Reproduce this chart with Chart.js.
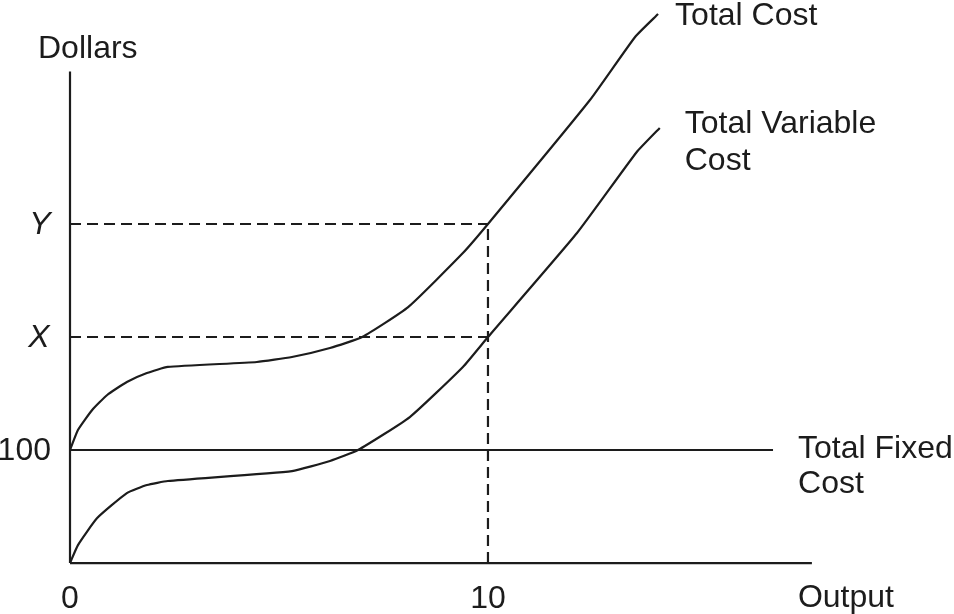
<!DOCTYPE html>
<html>
<head>
<meta charset="utf-8">
<script src="https://cdn.jsdelivr.net/npm/chart.js@4.4.1/dist/chart.umd.min.js"></script>
<style>
  html, body { margin: 0; padding: 0; background: #fff; }
  #wrap { width: 954px; height: 614px; }
</style>
</head>
<body>
<div id="wrap"><canvas id="costChart" width="954" height="614"></canvas></div>
<script>
// Values (output units, dollars)
const tcOutput  = [0, 0.19, 0.53, 0.89, 1.36, 1.84, 2.34, 4.47, 5.31, 6.22, 6.99, 8.09, 9.40, 10, 12.44, 13.52, 14.07];
const tcValues  = [100, 117.7, 135.4, 148.7, 160.2, 168.1, 173.5, 177.9, 182.3, 190.3, 200, 226.5, 274.3, 300, 409.7, 465.5, 485.8];

const tvcOutput = [0, 0.19, 0.65, 1.36, 1.84, 2.34, 5.31, 6.22, 6.89, 8.13, 9.40, 10, 12.13, 13.56, 14.11];
const tvcValues = [0, 15.9, 39.8, 61.9, 69, 72.6, 81.4, 90.3, 100, 129.2, 173.5, 200, 292, 363.7, 385];

const tfcOutput = [0, 16.82];
const tfcValues = [100, 100];

const markOutput = 10;     // Output level marked on the axis
const markX = 200;         // TVC at output 10
const markY = 300;         // TC at output 10

const xAxisEnd = 17.75;
const yAxisEnd = 435;

const INK = '#1c1c1c';
const FONT = '"Liberation Sans", Arial, sans-serif';

function pts(xs, ys) {
  return xs.map((x, i) => ({ x, y: ys[i] }));
}

function lineSet(data, opts = {}) {
  return Object.assign({
    data,
    showLine: true,
    borderColor: INK,
    borderWidth: 2.2,
    pointRadius: 0,
    fill: false,
    tension: 0
  }, opts);
}

const dash = [11, 6];

// Text labels, drawn with the scales
const labelPlugin = {
  id: 'labels',
  afterDraw(chart) {
    const { ctx } = chart;
    const sx = chart.scales.x, sy = chart.scales.y;
    const px = v => sx.getPixelForValue(v);
    const py = v => sy.getPixelForValue(v);
    ctx.save();
    ctx.fillStyle = INK;
    ctx.font = '32px ' + FONT;
    ctx.textBaseline = 'alphabetic';

    // axis titles
    ctx.textAlign = 'left';
    ctx.fillText('Dollars', px(0) - 32, py(yAxisEnd) - 13);
    ctx.fillText('Output', px(xAxisEnd) - 14, py(0) + 44);

    // curve labels
    ctx.fillText('Total Cost', px(14.07) + 17, py(485.8) + 11);
    ctx.fillText('Total Variable', px(14.11) + 25, 133);
    ctx.fillText('Cost', px(14.11) + 25, 170);
    ctx.fillText('Total Fixed', px(tfcOutput[1]) + 25, py(100) + 8);
    ctx.fillText('Cost', px(tfcOutput[1]) + 25, py(100) + 43);

    // x ticks
    ctx.textAlign = 'center';
    ctx.fillText('0', px(0), py(0) + 45);
    ctx.fillText(String(markOutput), px(markOutput), py(0) + 45);

    // y ticks
    ctx.textAlign = 'right';
    ctx.textBaseline = 'middle';
    ctx.fillText('100', px(0) - 19, py(100) + 1);
    ctx.font = 'italic 32px ' + FONT;
    ctx.textAlign = 'center';
    ctx.fillText('X', px(0) - 31, py(markX) + 1);
    ctx.fillText('Y', px(0) - 30, py(markY) + 1);
    ctx.restore();
  }
};

new Chart(document.getElementById('costChart'), {
  type: 'scatter',
  data: {
    datasets: [
      // axes
      lineSet(pts([0, 0], [0, yAxisEnd])),
      lineSet(pts([0, xAxisEnd], [0, 0])),
      // guide lines
      lineSet(pts([0, markOutput], [markY, markY]), { borderDash: dash }),
      lineSet(pts([0, markOutput], [markX, markX]), { borderDash: dash }),
      lineSet(pts([markOutput, markOutput], [0, markY]), { borderDash: dash }),
      // cost curves
      lineSet(pts(tfcOutput, tfcValues)),
      lineSet(pts(tvcOutput, tvcValues), { tension: 0.15 }),
      lineSet(pts(tcOutput, tcValues), { tension: 0.15 })
    ]
  },
  options: {
    responsive: false,
    animation: false,
    layout: { padding: 0 },
    plugins: {
      legend: { display: false },
      tooltip: { enabled: false }
    },
    scales: {
      x: { type: 'linear', display: false, min: -1.675, max: 21.15 },
      y: { type: 'linear', display: false, min: -45.1, max: 498.2 }
    }
  },
  plugins: [labelPlugin]
});
</script>
</body>
</html>
